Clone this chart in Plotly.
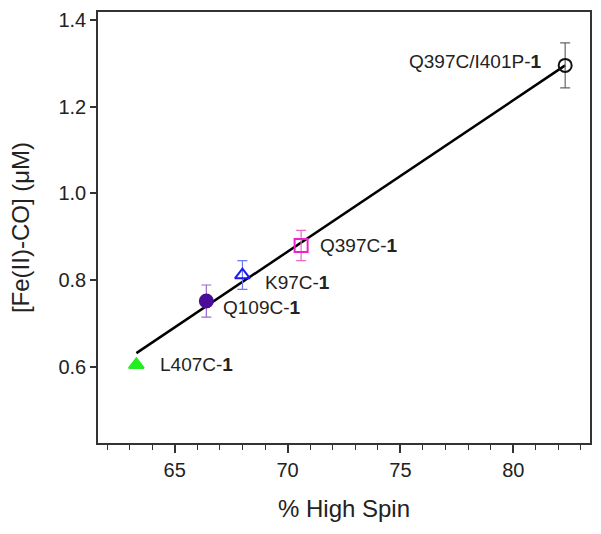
import plotly.graph_objects as go

# data
names = ["L407C", "Q109C", "K97C", "Q397C", "Q397C/I401P"]
high_spin = [63.3, 66.4, 68.0, 70.6, 82.3]
fe_co = [0.605, 0.752, 0.812, 0.880, 1.295]
fe_co_err = [0.0, 0.037, 0.033, 0.035, 0.052]
symbols = ["triangle-up", "circle", "triangle-up-open", "square-open", "circle-open"]
colors = ["#22ee22", "#4a0d9a", "#1a1aee", "#ee22cc", "#111111"]
err_colors = ["#22ee22", "#9a6ad0", "#6a7aee", "#ee66cc", "#666666"]
label_dx = [60, 56, 55, 58, -90]
label_dy = [0, -6, -7, 0, 4]

fit_x = [63.3, 82.3]
fit_y = [0.632, 1.295]

fig = go.Figure()

# linear fit
fig.add_trace(go.Scatter(
    x=fit_x, y=fit_y, mode="lines",
    line=dict(color="black", width=2.5),
    showlegend=False, hoverinfo="skip",
))

for i, name in enumerate(names):
    fig.add_trace(go.Scatter(
        x=[high_spin[i]], y=[fe_co[i]], mode="markers",
        marker=dict(symbol=symbols[i], size=13, color=colors[i],
                    line=dict(color=colors[i], width=2)),
        error_y=dict(type="data", array=[fe_co_err[i]], visible=fe_co_err[i] > 0,
                     color=err_colors[i], thickness=1.2, width=5),
        showlegend=False, name=name,
    ))
    fig.add_annotation(
        x=high_spin[i], y=fe_co[i], text=name + "-<b>1</b>",
        showarrow=False, xshift=label_dx[i], yshift=label_dy[i],
        font=dict(size=19, color="#222222"),
    )

fig.update_layout(
    width=601, height=534,
    margin=dict(l=98, r=11, t=12, b=91),
    plot_bgcolor="white", paper_bgcolor="white",
    font=dict(family="Liberation Sans, Arial, sans-serif", color="#222222"),
)
fig.update_xaxes(
    range=[61.6, 83.4], tickvals=[65, 70, 75, 80],
    ticks="outside", ticklen=8, tickwidth=1.5, tickcolor="#333333",
    minor=dict(dtick=1, tick0=0, ticks="outside", ticklen=5, tickwidth=1.3, tickcolor="#333333"),
    showline=True, linecolor="#333333", linewidth=1.5, mirror=True,
    showgrid=False, zeroline=False, automargin=False,
    tickfont=dict(size=20),
    title=dict(text="% High Spin", font=dict(size=24), standoff=20),
)
fig.update_yaxes(
    range=[0.425, 1.418], tickvals=[0.6, 0.8, 1.0, 1.2, 1.4], ticktext=["0.6", "0.8", "1.0", "1.2", "1.4"],
    ticks="outside", ticklen=6, tickwidth=1.5, tickcolor="#333333",
    showline=True, linecolor="#333333", linewidth=1.5, mirror=True,
    showgrid=False, zeroline=False, automargin=False,
    tickfont=dict(size=20),
    title=dict(text="[Fe(II)-CO] (μM)", font=dict(size=24), standoff=22),
)

# drop the browser's default page margin so the figure fills the window
fig.write_html("out.html", config={"displayModeBar": False},
               post_script="document.body.style.margin='0';")
